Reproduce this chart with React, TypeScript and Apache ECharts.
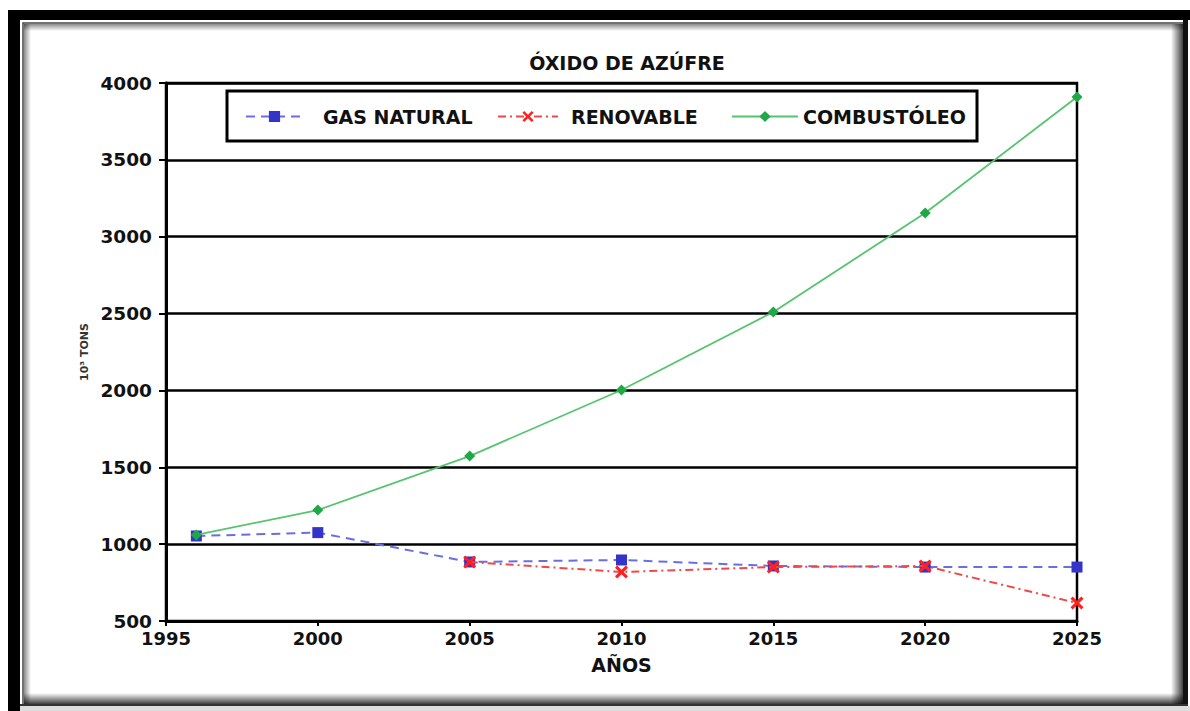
import React, { useEffect, useRef } from "react";
import * as echarts from "echarts";

const years = [1996, 2000, 2005, 2010, 2015, 2020, 2025];
const gasNatural = [1053, 1075, 884, 897, 858, 851, 851];
const renovable = [null, null, 884, 819, 851, 858, 617];
const combustoleo = [1060, 1222, 1573, 2003, 2510, 3154, 3909];
const seriesNames = ["GAS NATURAL", "RENOVABLE", "COMBUSTÓLEO"];
const titleText = "ÓXIDO DE AZÚFRE";
const xName = "AÑOS";
const yName = "10³ TONS";

const FONT = "DejaVu Sans";
const xShape = "path://M2,0 L6,4 L10,0 L12,2 L8,6 L12,10 L10,12 L6,8 L2,12 L0,10 L4,6 L0,2 Z";

function pairs(vals: (number | null)[]) {
  return years.map((y, i) => [y, vals[i]]);
}

function grad(x0: number, y0: number, x1: number, y1: number, a0: number, a1: number) {
  return new echarts.graphic.LinearGradient(x0, y0, x1, y1, [
    { offset: 0, color: `rgba(0,0,0,${a0})` },
    { offset: 1, color: `rgba(0,0,0,${a1})` },
  ]);
}

export default function App() {
  const ref = useRef<HTMLDivElement>(null);
  useEffect(() => {
    if (!ref.current) return;
    const chart = echarts.init(ref.current, null, { renderer: "svg" });
    const legendText = (pad: number) => ({
      fontFamily: FONT,
      fontWeight: "bold" as const,
      fontSize: 19,
      color: "#111",
      padding: [0, 0, 0, pad],
    });
    chart.setOption({
      animation: false,
      backgroundColor: "#fff",
      title: {
        text: titleText,
        left: 622,
        top: 48,
        textAlign: "center",
        textStyle: { fontFamily: FONT, fontWeight: "bold", fontSize: 19, color: "#111" },
      },
      legend: [
        {
          data: [seriesNames[0]],
          left: 245,
          top: 107,
          padding: 0,
          itemWidth: 57,
          itemHeight: 14,
          textStyle: legendText(15),
        },
        {
          data: [seriesNames[1]],
          left: 497,
          top: 107,
          padding: 0,
          itemWidth: 60,
          itemHeight: 14,
          textStyle: legendText(8),
        },
        {
          data: [seriesNames[2]],
          left: 731,
          top: 107,
          padding: 0,
          itemWidth: 66,
          itemHeight: 14,
          textStyle: legendText(0),
        },
      ],
      grid: {
        left: 166,
        right: 113,
        top: 83,
        bottom: 90,
        show: true,
        borderColor: "#000",
        borderWidth: 2.5,
        backgroundColor: "#fff",
      },
      xAxis: {
        type: "value",
        min: 1995,
        max: 2025,
        interval: 5,
        name: xName,
        nameLocation: "middle",
        nameGap: 34,
        nameTextStyle: { fontFamily: FONT, fontWeight: "bold", fontSize: 19, color: "#111" },
        axisLine: { show: true, lineStyle: { color: "#000", width: 3 } },
        axisTick: { show: true, length: 5, lineStyle: { color: "#000", width: 2 } },
        axisLabel: {
          margin: 8,
          fontFamily: FONT,
          fontWeight: "bold",
          fontSize: 18,
          color: "#111",
          formatter: (v: number) => String(v),
        },
        splitLine: { show: false },
      },
      yAxis: {
        type: "value",
        min: 500,
        max: 4000,
        interval: 500,
        name: yName,
        nameLocation: "middle",
        nameRotate: 90,
        nameGap: 70,
        nameTextStyle: { fontFamily: FONT, fontWeight: "bold", fontSize: 11, color: "#333" },
        axisLine: { show: true, lineStyle: { color: "#000", width: 3 } },
        axisTick: { show: true, length: 7, lineStyle: { color: "#000", width: 2 } },
        axisLabel: {
          margin: 14,
          fontFamily: FONT,
          fontWeight: "bold",
          fontSize: 18.5,
          color: "#111",
          formatter: (v: number) => String(v),
        },
        splitLine: { show: true, lineStyle: { color: "#000", width: 2.5 } },
      },
      series: [
        {
          name: seriesNames[0],
          type: "line",
          data: pairs(gasNatural),
          symbol: "rect",
          symbolSize: 11,
          itemStyle: { color: "#3434c8" },
          lineStyle: { color: "#6a6ee0", width: 2, type: [9, 6] },
          z: 3,
        },
        {
          name: seriesNames[1],
          type: "line",
          data: pairs(renovable),
          symbol: xShape,
          symbolSize: 13,
          itemStyle: { color: "#ff2020" },
          lineStyle: { color: "#f04848", width: 2, type: [8, 4, 2, 4] },
          z: 4,
        },
        {
          name: seriesNames[2],
          type: "line",
          data: pairs(combustoleo),
          symbol: "diamond",
          symbolSize: 11,
          itemStyle: { color: "#1ea846" },
          lineStyle: { color: "#55c46f", width: 1.8 },
          z: 5,
        },
      ],
      graphic: [
        {
          type: "rect",
          shape: { x: 227, y: 91, width: 750, height: 50 },
          style: { fill: "none", stroke: "#000", lineWidth: 3 },
          z: 10,
        },
        { type: "rect", shape: { x: 8, y: 10, width: 1182, height: 10 }, style: { fill: "#000" } },
        { type: "rect", shape: { x: 8, y: 10, width: 12, height: 701 }, style: { fill: "#000" } },
        {
          type: "rect",
          shape: { x: 23, y: 23, width: 1161, height: 682 },
          style: { fill: "none", stroke: "#444", lineWidth: 1.5 },
        },
        { type: "rect", shape: { x: 24, y: 24, width: 1159, height: 7 }, style: { fill: grad(0, 0, 0, 1, 0.45, 0) } },
        { type: "rect", shape: { x: 24, y: 24, width: 7, height: 680 }, style: { fill: grad(0, 0, 1, 0, 0.45, 0) } },
        { type: "rect", shape: { x: 1171, y: 24, width: 12, height: 680 }, style: { fill: grad(0, 0, 1, 0, 0, 0.75) } },
        { type: "rect", shape: { x: 24, y: 693, width: 1159, height: 11 }, style: { fill: grad(0, 0, 0, 1, 0, 0.75) } },
        { type: "rect", shape: { x: 1183, y: 20, width: 5, height: 686 }, style: { fill: "#111" } },
        { type: "rect", shape: { x: 20, y: 704, width: 1168, height: 2 }, style: { fill: "#333" } },
        { type: "rect", shape: { x: 20, y: 706, width: 1170, height: 5 }, style: { fill: "#ddd" } },
      ],
    });
    return () => chart.dispose();
  }, []);
  return (
    <div
      ref={ref}
      style={{ position: "fixed", left: 0, top: 0, width: 1190, height: 711 }}
    />
  );
}
